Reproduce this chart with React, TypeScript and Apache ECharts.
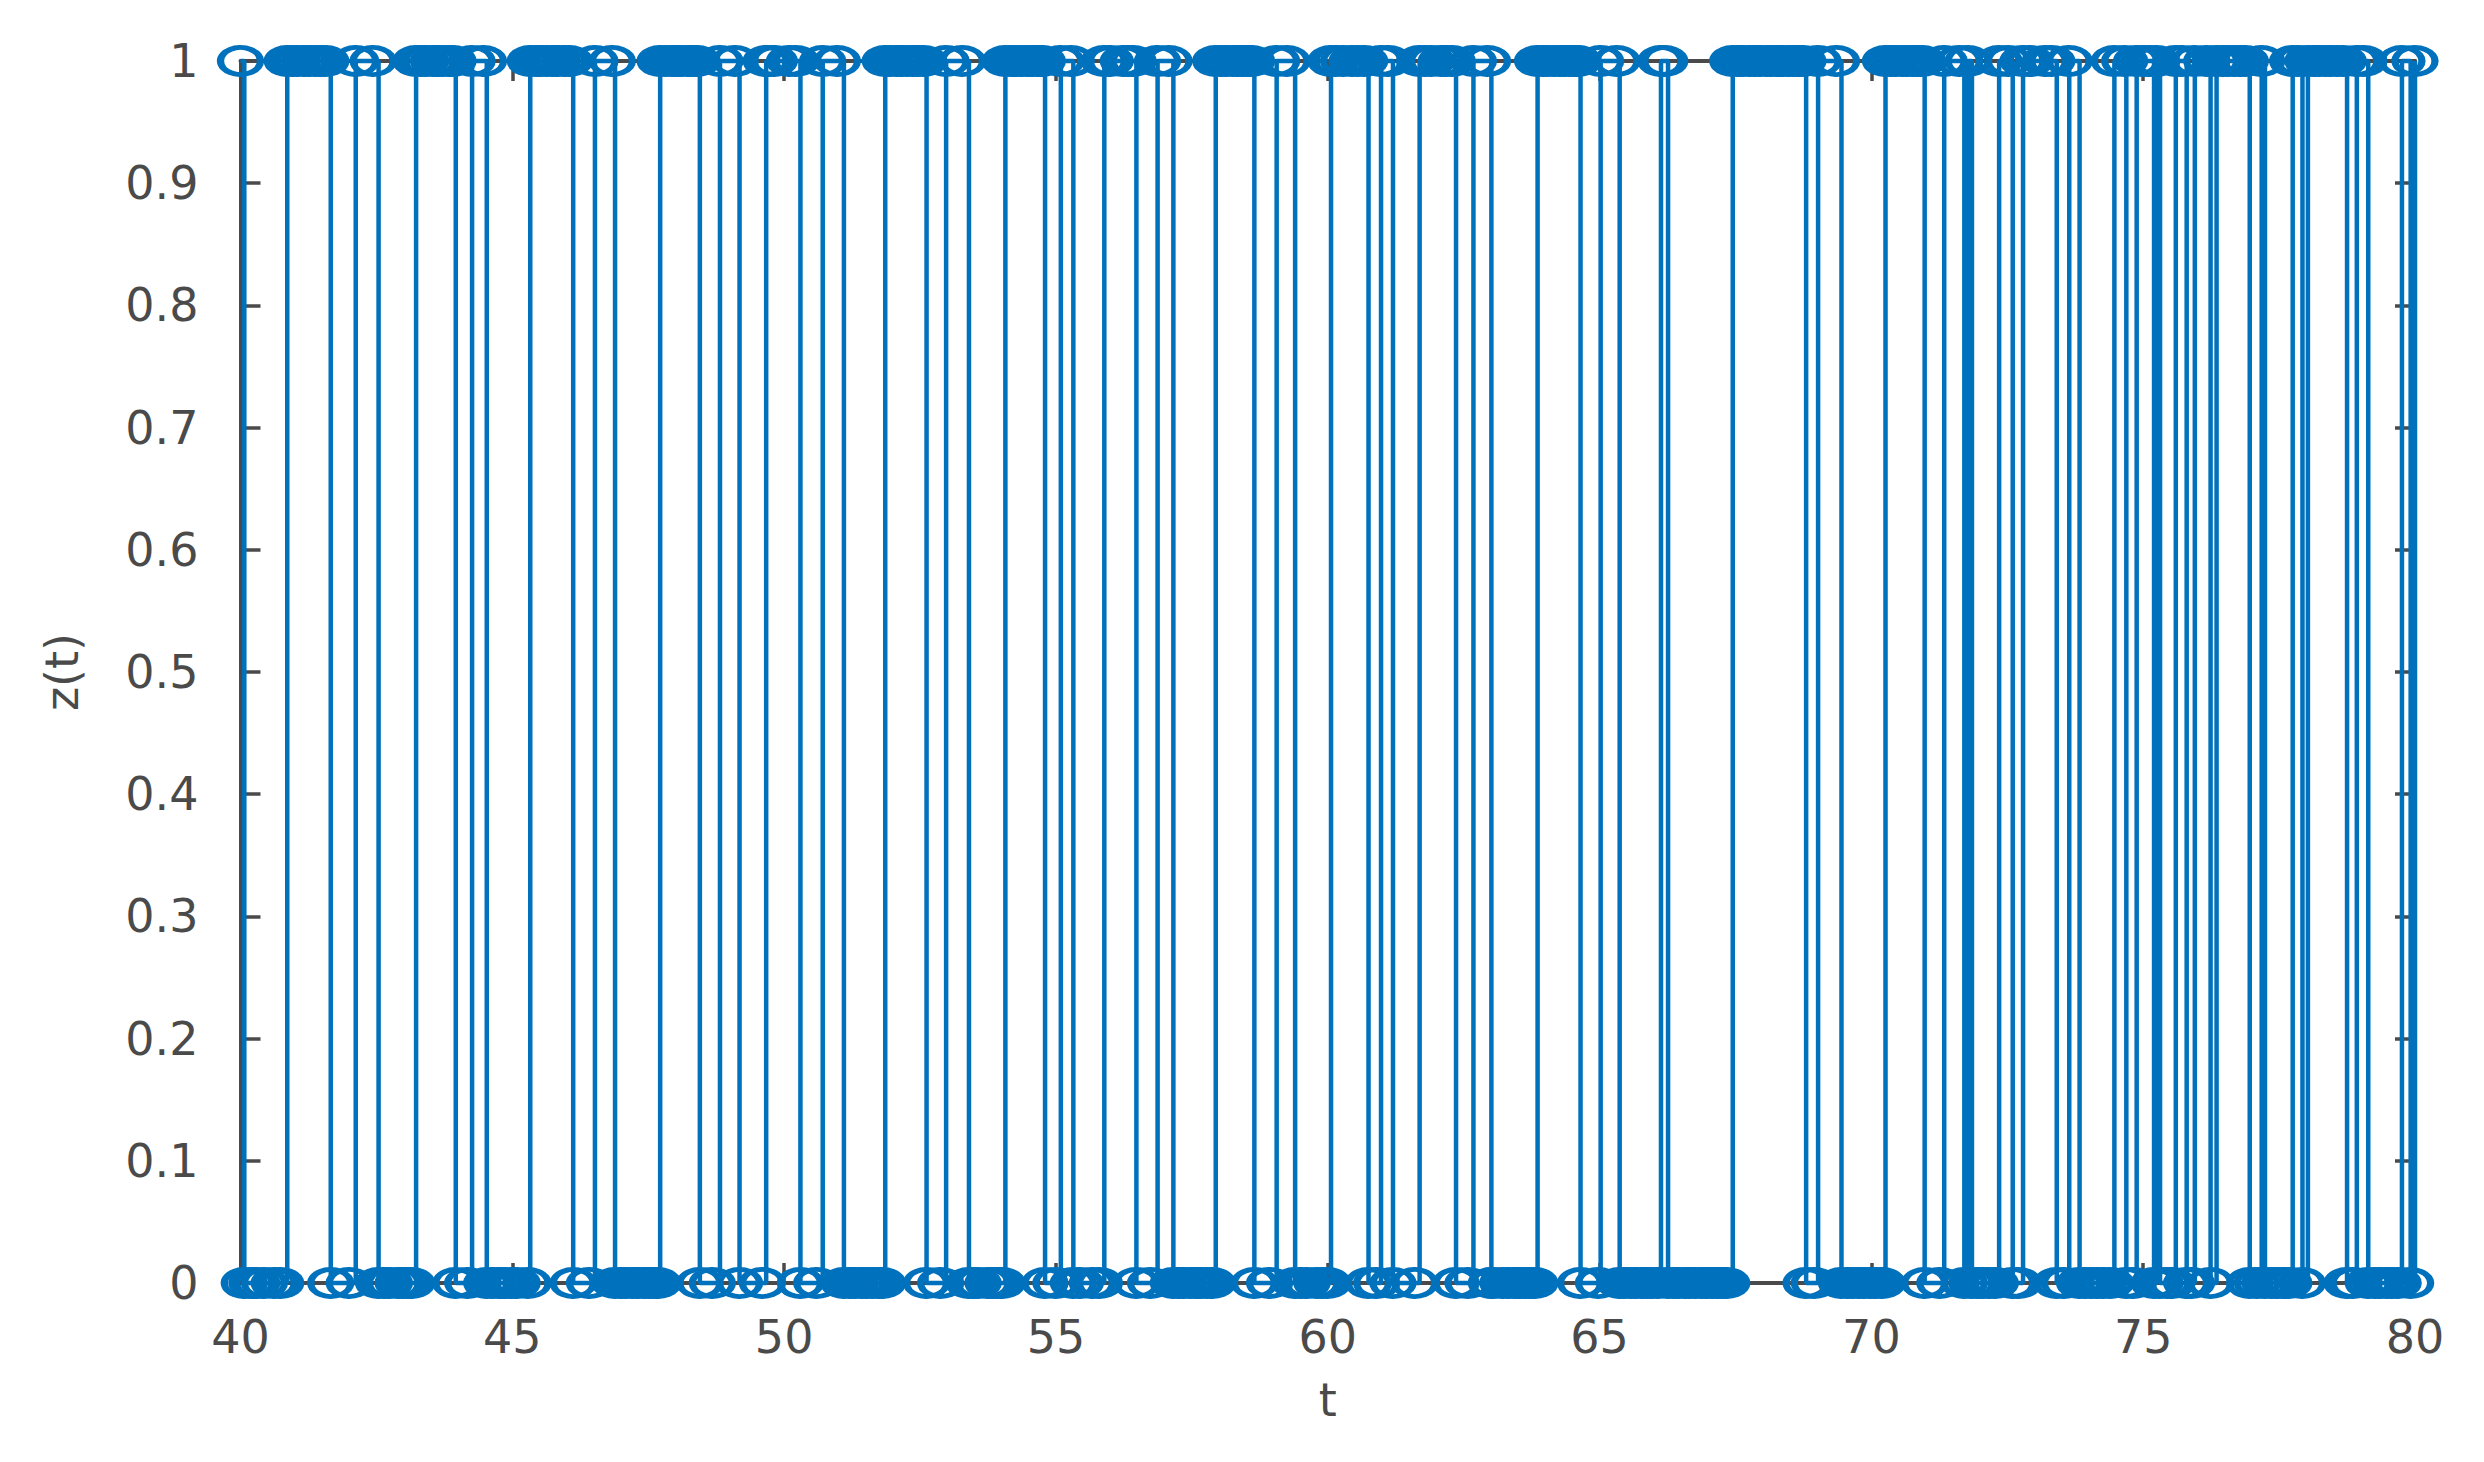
import React, { useEffect, useRef } from "react";
import * as echarts from "echarts";

// Each run: [z value, event times at which z was sampled during that run]
const runs: [number, number[]][] = [
  [1, [40.0]],
  [0, [40.07, 40.21, 40.3, 40.44, 40.62, 40.74]],
  [1, [40.86, 40.97, 41.05, 41.18, 41.27, 41.39, 41.48, 41.57]],
  [0, [41.66, 42.0]],
  [1, [42.12, 42.44]],
  [0, [42.54, 42.66, 42.74, 42.9, 42.99, 43.08, 43.15]],
  [1, [43.23, 43.34, 43.41, 43.55, 43.63, 43.72, 43.84, 43.91]],
  [0, [43.96, 44.18]],
  [1, [44.26, 44.47]],
  [0, [44.53, 44.64, 44.77, 44.86, 44.98, 45.09, 45.29]],
  [1, [45.33, 45.45, 45.52, 45.64, 45.75, 45.83, 45.96, 46.05]],
  [0, [46.12, 46.42]],
  [1, [46.52, 46.84]],
  [0, [46.89, 47.01, 47.09, 47.22, 47.31, 47.43, 47.52, 47.61, 47.68]],
  [1, [47.72, 47.83, 47.95, 48.03, 48.12, 48.24, 48.33, 48.4]],
  [0, [48.45, 48.68]],
  [1, [48.82, 49.1]],
  [0, [49.18, 49.6]],
  [1, [49.67, 49.74, 49.82, 50.1, 50.22]],
  [0, [50.3, 50.6]],
  [1, [50.71, 50.98]],
  [0, [51.1, 51.22, 51.31, 51.44, 51.52, 51.63, 51.75, 51.81]],
  [1, [51.86, 51.95, 52.08, 52.16, 52.27, 52.38, 52.46, 52.57]],
  [0, [52.62, 52.88]],
  [1, [52.98, 53.28]],
  [0, [53.4, 53.49, 53.57, 53.75, 53.84, 53.93, 54.01]],
  [1, [54.07, 54.19, 54.27, 54.38, 54.49, 54.57, 54.68, 54.75]],
  [0, [54.8, 55.0]],
  [1, [55.09, 55.28]],
  [0, [55.32, 55.45, 55.67, 55.8]],
  [1, [55.89, 56.0, 56.24, 56.33, 56.42]],
  [0, [56.48, 56.74]],
  [1, [56.87, 57.08]],
  [0, [57.16, 57.27, 57.35, 57.48, 57.59, 57.66, 57.78, 57.88]],
  [1, [57.94, 58.05, 58.13, 58.26, 58.35, 58.44, 58.53, 58.6]],
  [0, [58.65, 58.93]],
  [1, [59.06, 59.25]],
  [0, [59.4, 59.51, 59.62, 59.8, 59.9, 60.0]],
  [1, [60.06, 60.15, 60.29, 60.45, 60.56, 60.68]],
  [0, [60.75, 60.9]],
  [1, [60.98, 61.12]],
  [0, [61.2, 61.6]],
  [1, [61.69, 61.8, 61.91, 62.09, 62.18, 62.29]],
  [0, [62.36, 62.58]],
  [1, [62.68, 62.94]],
  [0, [63.01, 63.04, 63.22, 63.33, 63.45, 63.52, 63.64, 63.73, 63.81]],
  [1, [63.86, 63.97, 64.05, 64.17, 64.28, 64.36, 64.47, 64.55, 64.61]],
  [0, [64.65, 64.98]],
  [1, [65.02, 65.32]],
  [0, [65.37, 65.46, 65.58, 65.67, 65.79, 65.88, 65.96, 66.08]],
  [1, [66.13, 66.2]],
  [0, [66.26, 66.37, 66.45, 66.58, 66.66, 66.77, 66.89, 66.97, 67.08, 67.17, 67.26, 67.34]],
  [1, [67.45, 67.56, 67.64, 67.77, 67.86, 67.95, 68.08, 68.16, 68.27, 68.36, 68.48, 68.57, 68.66, 68.74]],
  [0, [68.8, 68.95]],
  [1, [69.02, 69.36]],
  [0, [69.45, 69.57, 69.66, 69.78, 69.87, 69.99, 70.08, 70.2]],
  [1, [70.26, 70.37, 70.45, 70.58, 70.66, 70.77, 70.86, 70.94]],
  [0, [70.98, 71.26]],
  [1, [71.34, 71.62]],
  [0, [71.71]],
  [1, [71.78]],
  [0, [71.85, 71.96, 72.05, 72.17, 72.28]],
  [1, [72.35, 72.52]],
  [0, [72.6, 72.71]],
  [1, [72.79, 72.92, 73.2, 73.32]],
  [0, [73.41, 73.55]],
  [1, [73.64]],
  [0, [73.83, 73.94, 74.05, 74.16, 74.27, 74.4]],
  [1, [74.47, 74.66]],
  [0, [74.69, 74.82]],
  [1, [74.88, 75.01, 75.12]],
  [0, [75.2]],
  [1, [75.25]],
  [0, [75.31, 75.45, 75.53]],
  [1, [75.6, 75.72]],
  [0, [75.8, 75.89]],
  [1, [75.95, 76.17]],
  [0, [76.24]],
  [1, [76.35, 76.47, 76.56, 76.68, 76.79, 76.88]],
  [0, [76.96, 77.1]],
  [1, [77.18]],
  [0, [77.24, 77.37, 77.46, 77.58, 77.68]],
  [1, [77.75, 77.86]],
  [0, [77.93]],
  [1, [78.03, 78.15, 78.24, 78.36, 78.45, 78.57, 78.68]],
  [0, [78.75, 78.86]],
  [1, [78.93, 79.06]],
  [0, [79.14, 79.27, 79.36, 79.49, 79.58, 79.69]],
  [1, [79.76]],
  [0, [79.92]],
  [1, [80.0]],
];

const xTickLabels = ["40", "45", "50", "55", "60", "65", "70", "75", "80"];
const yTickLabels = ["0", "0.1", "0.2", "0.3", "0.4", "0.5", "0.6", "0.7", "0.8", "0.9", "1"];
const xName = "t";
const yName = "z(t)";

const BLUE = "#0072BD";
const AXIS = "#4a4a4a";
const FONT = "DejaVu Sans";

export default function App() {
  const ref = useRef<HTMLDivElement>(null);
  useEffect(() => {
    if (!ref.current) return;
    const chart = echarts.init(ref.current, null, { renderer: "svg" });
    const data = runs.flatMap(([z, ts]) => ts.map((t) => [t, z]));
    const axisLineStyle = { color: AXIS, width: 4 };
    const tick = { show: true, inside: true, length: 20, lineStyle: { color: AXIS, width: 3.5 } };
    chart.setOption({
      animation: false,
      backgroundColor: "#ffffff",
      grid: { left: 240.5, right: 69, top: 61, bottom: 179, containLabel: false },
      xAxis: [
        {
          type: "value",
          min: 40,
          max: 80,
          interval: 5,
          position: "bottom",
          axisLine: { show: true, onZero: false, lineStyle: axisLineStyle },
          axisTick: tick,
          splitLine: { show: false },
          axisLabel: {
            show: true,
            margin: 31,
            fontSize: 46,
            fontFamily: FONT,
            color: AXIS,
            showMinLabel: true,
            showMaxLabel: true,
            formatter: (v: number) => xTickLabels[Math.round((v - 40) / 5)] ?? "",
          },
          name: xName,
          nameLocation: "middle",
          nameGap: 94,
          nameTextStyle: { fontSize: 46, fontFamily: FONT, color: AXIS },
        },
        {
          type: "value",
          min: 40,
          max: 80,
          interval: 5,
          position: "top",
          axisLine: { show: true, onZero: false, lineStyle: axisLineStyle },
          axisTick: tick,
          splitLine: { show: false },
          axisLabel: { show: false },
        },
      ],
      yAxis: [
        {
          type: "value",
          min: 0,
          max: 1,
          interval: 0.1,
          position: "left",
          axisLine: { show: true, onZero: false, lineStyle: axisLineStyle },
          axisTick: tick,
          splitLine: { show: false },
          axisLabel: {
            show: true,
            margin: 42,
            fontSize: 46,
            fontFamily: FONT,
            color: AXIS,
            showMinLabel: true,
            showMaxLabel: true,
            formatter: (v: number) => yTickLabels[Math.round(v * 10)] ?? "",
          },
          name: yName,
          nameLocation: "middle",
          nameGap: 156,
          nameRotate: 90,
          nameTextStyle: { fontSize: 46, fontFamily: FONT, color: AXIS },
        },
        {
          type: "value",
          min: 0,
          max: 1,
          interval: 0.1,
          position: "right",
          axisLine: { show: true, onZero: false, lineStyle: axisLineStyle },
          axisTick: tick,
          splitLine: { show: false },
          axisLabel: { show: false },
        },
      ],
      series: [
        {
          type: "line",
          xAxisIndex: 0,
          yAxisIndex: 0,
          data,
          step: "end",
          clip: false,
          showSymbol: true,
          showAllSymbol: true,
          symbol: "circle",
          symbolSize: [40, 27],
          lineStyle: { color: BLUE, width: 4.5 },
          itemStyle: { color: "rgba(0,0,0,0)", borderColor: BLUE, borderWidth: 6 },
          emphasis: { disabled: true },
          z: 3,
        },
      ],
    });
    return () => chart.dispose();
  }, []);
  return (
    <div
      ref={ref}
      style={{ position: "absolute", left: 0, top: 0, width: 2484, height: 1462, background: "#fff" }}
    />
  );
}
